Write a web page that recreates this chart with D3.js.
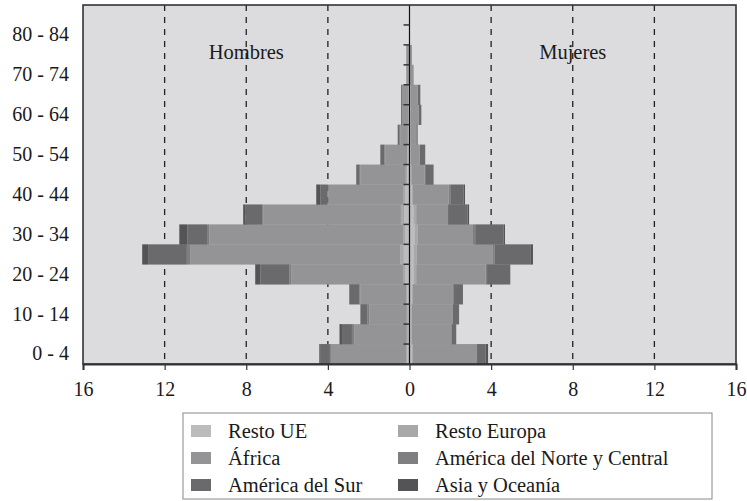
<!DOCTYPE html>
<html>
<head>
<meta charset="utf-8">
<script src="https://cdn.jsdelivr.net/npm/d3@7/dist/d3.min.js"></script>
<style>
  html, body { margin: 0; padding: 0; background: #ffffff; }
  svg { display: block; }
  text { font-family: "Liberation Serif", "Times New Roman", serif; fill: #1a1a1a; }
</style>
</head>
<body>
<svg id="chart" width="747" height="501"></svg>
<script>
// ---------- DATA ----------
const ages = ["0-4","5-9","10-14","15-19","20-24","25-29","30-34","35-39","40-44",
              "45-49","50-54","55-59","60-64","65-69","70-74","75-79","80-84","85+"];
const ageLabels = ["0 - 4","","10 - 14","","20 - 24","","30 - 34","","40 - 44",
                   "","50 - 54","","60 - 64","","70 - 74","","80 - 84",""];
const seriesNames = ["Resto UE","Resto Europa","África","América del Norte y Central","América del Sur","Asia y Oceanía"];
const seriesColors = ["#bcbcbf","#a8a8ab","#949497","#7f7f82","#6a6a6d","#545457"];

// Hombres (men), per age group
const menRestoUE    = [0.10,0.08,0.08,0.10,0.20,0.28,0.20,0.26,0.20,0.12,0.08,0.05,0.04,0.04,0.02,0.02,0,0];
const menRestoEur   = [0.05,0.05,0.05,0.06,0.12,0.17,0.12,0.16,0.12,0.06,0.04,0.03,0.02,0.02,0.01,0.01,0,0];
const menAfrica     = [3.70,2.58,1.84,2.25,5.47,10.30,9.49,6.75,3.66,2.23,1.07,0.37,0.27,0.27,0.11,0.11,0,0];
const menAmNorte    = [0.05,0.11,0.10,0.05,0.10,0.16,0.11,0.05,0.04,0.03,0.04,0.03,0.02,0.02,0.01,0.01,0,0];
const menAmSur      = [0.45,0.49,0.33,0.46,1.42,1.90,0.97,0.83,0.35,0.17,0.20,0.10,0.06,0.06,0.01,0.01,0,0];
const menAsia       = [0.07,0.12,0.01,0.03,0.25,0.29,0.39,0.10,0.20,0.00,0.00,0.00,0.00,0.00,0.00,0.00,0,0];

// Mujeres (women), per age group
const womenRestoUE  = [0.10,0.08,0.08,0.10,0.20,0.22,0.25,0.20,0.10,0.06,0.05,0.03,0.04,0.04,0.02,0.01,0,0];
const womenRestoEur = [0.05,0.04,0.04,0.05,0.13,0.14,0.15,0.13,0.06,0.03,0.02,0.02,0.02,0.02,0.01,0.01,0,0];
const womenAfrica   = [3.16,1.91,1.98,1.95,3.40,3.70,2.71,1.56,1.76,0.65,0.42,0.27,0.38,0.33,0.15,0.09,0,0];
const womenAmNorte  = [0.00,0.03,0.03,0.05,0.07,0.10,0.11,0.00,0.08,0.03,0.02,0.02,0.02,0.02,0.01,0.00,0,0];
const womenAmSur    = [0.42,0.23,0.30,0.47,1.14,1.76,1.39,0.96,0.65,0.41,0.26,0.06,0.12,0.12,0.01,0.01,0,0];
const womenAsia     = [0.12,0.00,0.00,0.00,0.00,0.13,0.07,0.07,0.07,0.00,0.00,0.00,0.00,0.00,0.00,0.00,0,0];

const xTicks = [-16,-12,-8,-4,0,4,8,12,16];
const gridValues = [-12,-8,-4,4,8,12];

// ---------- BUILD ----------
const menSeries = [menRestoUE, menRestoEur, menAfrica, menAmNorte, menAmSur, menAsia];
const womenSeries = [womenRestoUE, womenRestoEur, womenAfrica, womenAmNorte, womenAmSur, womenAsia];
function rows(seriesArr) {
  return ages.map((a, i) => {
    const o = { age: a };
    seriesNames.forEach((s, k) => { o[s] = seriesArr[k][i]; });
    return o;
  });
}
const stack = d3.stack().keys(seriesNames);
const menStack = stack(rows(menSeries));
const womenStack = stack(rows(womenSeries));

const svg = d3.select("#chart");
const L = 83, R = 736, T = 5, B = 364;
const x = d3.scaleLinear().domain([-16, 16]).range([L, R]);
const y = d3.scaleBand().domain(ages).range([B, T]).padding(0);

// plot background
svg.append("rect").attr("x", L).attr("y", T).attr("width", R - L).attr("height", B - T)
  .attr("fill", "#dcdcde");

// dashed grid
svg.append("g").selectAll("line").data(gridValues).join("line")
  .attr("x1", d => x(d)).attr("x2", d => x(d))
  .attr("y1", T).attr("y2", B)
  .attr("stroke", "#222").attr("stroke-width", 1.3)
  .attr("stroke-dasharray", "6,6");

// labels Hombres / Mujeres
svg.append("text").attr("x", x(-8)).attr("y", 59).attr("text-anchor", "middle")
  .style("font-size", "20.5px").text("Hombres");
svg.append("text").attr("x", x(8)).attr("y", 59).attr("text-anchor", "middle")
  .style("font-size", "20.5px").text("Mujeres");

// bars: men
const gm = svg.append("g");
menStack.forEach((layer, k) => {
  gm.append("g").attr("fill", seriesColors[k]).selectAll("rect").data(layer).join("rect")
    .attr("x", d => x(-d[1]))
    .attr("width", d => Math.max(0, x(-d[0]) - x(-d[1])))
    .attr("y", d => y(d.data.age))
    .attr("height", y.bandwidth() + 0.3);
});
// bars: women
const gw = svg.append("g");
womenStack.forEach((layer, k) => {
  gw.append("g").attr("fill", seriesColors[k]).selectAll("rect").data(layer).join("rect")
    .attr("x", d => x(d[0]))
    .attr("width", d => Math.max(0, x(d[1]) - x(d[0])))
    .attr("y", d => y(d.data.age))
    .attr("height", y.bandwidth() + 0.3);
});

// center axis with ticks at band boundaries
const center = svg.append("g").attr("transform", `translate(${x(0)},0)`);
center.append("line").attr("y1", T).attr("y2", B).attr("stroke", "#111").attr("stroke-width", 1.2);
center.selectAll("line.tk").data(ages.slice(0, ages.length - 1)).join("line").attr("class", "tk")
  .attr("x1", -6).attr("x2", 0)
  .attr("y1", d => y(d)).attr("y2", d => y(d))
  .attr("stroke", "#333").attr("stroke-width", 1.5);

// frame
svg.append("rect").attr("x", L).attr("y", T).attr("width", R - L).attr("height", B - T)
  .attr("fill", "none").attr("stroke", "#333").attr("stroke-width", 1.6);

// bottom axis
const xAxis = d3.axisBottom(x).tickValues(xTicks).tickFormat(d => Math.abs(d)).tickSize(6).tickPadding(12);
const gx = svg.append("g").attr("transform", `translate(0,${B})`).call(xAxis);
gx.select(".domain").attr("stroke", "#333").attr("stroke-width", 2);
gx.selectAll(".tick line").attr("stroke", "#333").attr("stroke-width", 1.2);
gx.selectAll(".tick text").style("font-size", "20px").style("font-family", "Liberation Serif, serif").attr("fill", "#1a1a1a");

// left axis labels
const yAxis = d3.axisLeft(y).tickFormat((d, i) => ageLabels[i]).tickSize(0).tickPadding(14);
const gy = svg.append("g").attr("transform", `translate(${L},0)`).call(yAxis);
gy.select(".domain").remove();
gy.selectAll(".tick text").style("font-size", "20px").style("font-family", "Liberation Serif, serif").attr("fill", "#1a1a1a");

// legend
const lg = svg.append("g");
lg.append("rect").attr("x", 183).attr("y", 413).attr("width", 529).attr("height", 86)
  .attr("fill", "#fff").attr("stroke", "#888").attr("stroke-width", 1);
const colX = [191, 398];
seriesNames.forEach((s, k) => {
  const col = k % 2, row = Math.floor(k / 2);
  const cy = 431 + row * 27;
  lg.append("rect").attr("x", colX[col]).attr("y", cy - 6).attr("width", 20).attr("height", 12)
    .attr("fill", seriesColors[k]);
  lg.append("text").attr("x", colX[col] + 37).attr("y", cy + 6.5)
    .style("font-size", "20.5px").text(s);
});
</script>
</body>
</html>
